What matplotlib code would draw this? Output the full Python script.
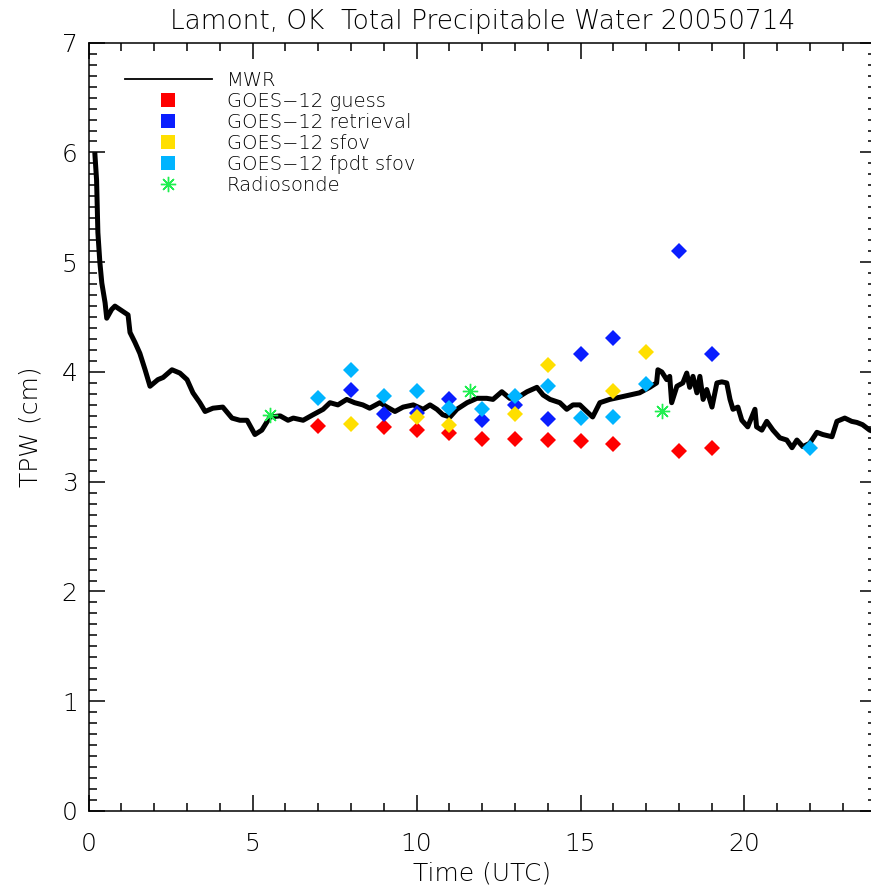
import numpy as np
import matplotlib.pyplot as plt
from matplotlib.lines import Line2D
from matplotlib.ticker import MultipleLocator

# MWR total precipitable water trace (hours UTC, cm)
mwr_time = [0.19, 0.24, 0.28, 0.34, 0.40, 0.50, 0.55, 0.70, 0.80, 0.95,
            1.20, 1.26, 1.41, 1.56, 1.72, 1.87, 2.11, 2.27, 2.54, 2.78,
            3.00, 3.18, 3.39, 3.55, 3.79, 4.09, 4.37, 4.61, 4.83, 5.07,
            5.28, 5.53, 5.84, 6.08, 6.24, 6.54, 6.84, 7.15, 7.36, 7.60,
            7.87, 8.11, 8.36, 8.57, 8.88, 9.10, 9.34, 9.59, 9.90, 10.20,
            10.41, 10.62, 10.80, 11.02, 11.23, 11.54, 11.84, 12.14, 12.33, 12.60,
            12.84, 13.10, 13.37, 13.67, 13.86, 14.07, 14.37, 14.58, 14.77, 14.98,
            15.19, 15.37, 15.59, 15.89, 16.20, 16.50, 16.80, 17.11, 17.32, 17.36,
            17.48, 17.63, 17.72, 17.78, 17.94, 18.12, 18.24, 18.33, 18.43, 18.55,
            18.64, 18.74, 18.85, 19.01, 19.16, 19.31, 19.46, 19.56, 19.65, 19.80,
            19.92, 20.10, 20.32, 20.37, 20.53, 20.68, 20.87, 21.08, 21.29, 21.45,
            21.60, 21.78, 21.99, 22.21, 22.39, 22.67, 22.82, 23.06, 23.27, 23.43,
            23.60, 23.82, 24.00]
mwr_tpw = [5.98, 5.75, 5.27, 5.00, 4.81, 4.63, 4.49, 4.57, 4.60, 4.57,
           4.52, 4.36, 4.27, 4.17, 4.02, 3.87, 3.93, 3.95, 4.02, 3.99,
           3.93, 3.81, 3.72, 3.64, 3.67, 3.68, 3.58, 3.56, 3.56, 3.43,
           3.47, 3.59, 3.60, 3.56, 3.58, 3.56, 3.61, 3.66, 3.72, 3.70,
           3.75, 3.72, 3.70, 3.67, 3.72, 3.68, 3.64, 3.68, 3.70, 3.66,
           3.70, 3.66, 3.61, 3.59, 3.66, 3.72, 3.76, 3.76, 3.75, 3.82,
           3.76, 3.77, 3.82, 3.86, 3.79, 3.75, 3.72, 3.66, 3.70, 3.70,
           3.64, 3.59, 3.72, 3.75, 3.77, 3.79, 3.81, 3.86, 3.90, 4.02,
           4.00, 3.93, 3.96, 3.72, 3.87, 3.90, 3.99, 3.86, 3.96, 3.81,
           3.96, 3.75, 3.84, 3.68, 3.90, 3.91, 3.90, 3.75, 3.66, 3.68,
           3.56, 3.50, 3.66, 3.50, 3.47, 3.55, 3.47, 3.40, 3.38, 3.31,
           3.38, 3.32, 3.35, 3.45, 3.43, 3.41, 3.55, 3.58, 3.55, 3.54,
           3.52, 3.47, 3.45]

# GOES-12 guess
guess_time = [7, 9, 10, 11, 12, 13, 14, 15, 16, 18, 19]
guess_tpw = [3.51, 3.50, 3.47, 3.44, 3.39, 3.39, 3.38, 3.37, 3.34, 3.28, 3.31]

# GOES-12 retrieval
retr_time = [8, 9, 10, 11, 12, 13, 14, 15, 16, 18, 19]
retr_tpw = [3.84, 3.62, 3.63, 3.75, 3.56, 3.70, 3.57, 4.16, 4.31, 5.10, 4.16]

# GOES-12 sfov
sfov_time = [8, 10, 11, 13, 14, 16, 17]
sfov_tpw = [3.53, 3.59, 3.52, 3.62, 4.06, 3.83, 4.18]

# GOES-12 fpdt sfov
fpdt_time = [7, 8, 9, 10, 11, 12, 13, 14, 15, 16, 17, 22]
fpdt_tpw = [3.76, 4.02, 3.78, 3.83, 3.67, 3.66, 3.78, 3.87, 3.58, 3.59, 3.89, 3.31]

# Radiosonde
sonde_time = [5.53, 11.63, 17.5]
sonde_tpw = [3.61, 3.83, 3.64]

c_guess = '#ff0000'
c_retr = '#0a1eff'
c_sfov = '#ffdf00'
c_fpdt = '#00b4ff'
c_sonde = '#1fef4f'

plt.rcParams['font.family'] = ['DejaVu Sans']
plt.rcParams['font.weight'] = 'light'
plt.rcParams['axes.titleweight'] = 'light'
plt.rcParams['axes.labelweight'] = 'light'

fig = plt.figure(figsize=(8.71, 8.92), dpi=100)
ax = fig.add_axes([88.7 / 871, 81 / 892, 786.9 / 871, 768.3 / 892])

ax.plot(mwr_time, mwr_tpw, color='black', linewidth=3.6, zorder=2)
dkw = dict(marker='D', linestyle='none', markersize=7.8, markeredgewidth=0, zorder=3)
ax.plot(guess_time, guess_tpw, color=c_guess, **dkw)
ax.plot(retr_time, retr_tpw, color=c_retr, **dkw)
ax.plot(sfov_time, sfov_tpw, color=c_sfov, **dkw)
ax.plot(fpdt_time, fpdt_tpw, color=c_fpdt, **dkw)
ax.plot(sonde_time, sonde_tpw, color=c_sonde, marker=(8, 2, 0), linestyle='none',
        markersize=11, markeredgewidth=1.0, zorder=4)

ax.set_xlim(0, 24)
ax.set_ylim(0, 7)
ax.xaxis.set_major_locator(MultipleLocator(5))
ax.xaxis.set_minor_locator(MultipleLocator(1))
ax.yaxis.set_major_locator(MultipleLocator(1))
ax.yaxis.set_minor_locator(MultipleLocator(0.1))
ax.tick_params(which='both', direction='in', top=True, right=True, width=1.1,
               labelsize=18)
ax.tick_params(which='major', length=11.5)
ax.tick_params(which='minor', length=5.8)
ax.tick_params(axis='x', pad=15)
ax.tick_params(axis='y', pad=8)
for s in ax.spines.values():
    s.set_linewidth(1.1)

ax.set_title('Lamont, OK  Total Precipitable Water 20050714', fontsize=19, pad=10)
ax.set_xlabel('Time (UTC)', fontsize=18, labelpad=4)
ax.set_ylabel('TPW (cm)', fontsize=18, labelpad=14)

sq = dict(marker='s', linestyle='none', markersize=10.5, markeredgewidth=0)
handles = [
    Line2D([], [], color='black', linewidth=1.3),
    Line2D([], [], color=c_guess, **sq),
    Line2D([], [], color=c_retr, **sq),
    Line2D([], [], color=c_sfov, **sq),
    Line2D([], [], color=c_fpdt, **sq),
    Line2D([], [], color=c_sonde, marker=(8, 2, 0), linestyle='none', markersize=11, markeredgewidth=1.0),
]
labels = ['MWR', 'GOES\u221212 guess', 'GOES\u221212 retrieval', 'GOES\u221212 sfov',
          'GOES\u221212 fpdt sfov', 'Radiosonde']
ax.legend(handles, labels, loc='upper left', bbox_to_anchor=(0.046, 0.963),
          frameon=False, fontsize=14, handlelength=4.47, handletextpad=0.76,
          labelspacing=0.1, borderpad=0, borderaxespad=0)

fig.savefig('out.png', dpi=100)
